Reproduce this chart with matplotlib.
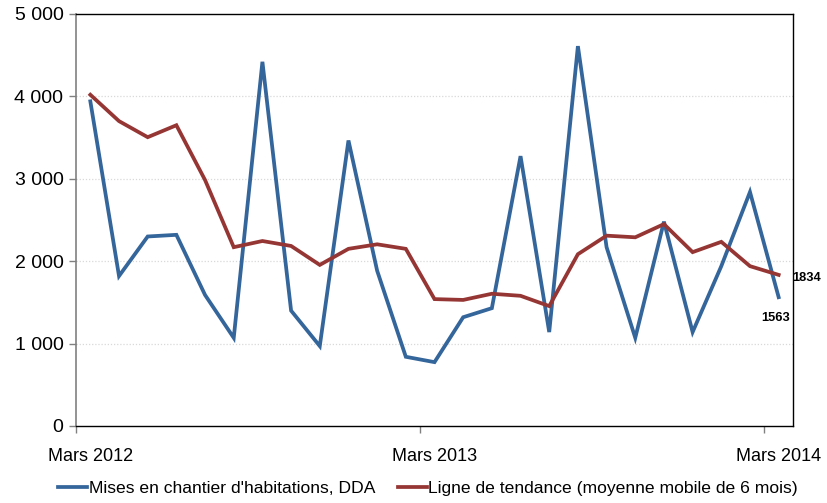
import matplotlib
matplotlib.use("Agg")
import matplotlib.pyplot as plt
from matplotlib.ticker import FixedLocator, FuncFormatter

plt.rcParams['font.family'] = ['Liberation Sans', 'DejaVu Sans']

months = list(range(25))
tick_labels = ["Mars 2012", "Mars 2013", "Mars 2014"]
tick_label_pos = [0, 12, 24]
mises = [3940, 1820, 2300, 2320, 1590, 1070, 4420, 1400, 970, 3465, 1885, 840,
         775, 1320, 1430, 3275, 1140, 4610, 2170, 1070, 2480, 1140, 1940, 2840, 1563]
tendance = [4020, 3700, 3505, 3650, 2985, 2170, 2245, 2185, 1955, 2150, 2205, 2150,
            1540, 1530, 1605, 1580, 1455, 2085, 2310, 2290, 2450, 2110, 2235, 1940, 1834]
blue = "#34659B"
red = "#963634"

fig = plt.figure(figsize=(8.27, 5.03), dpi=100)
ax = fig.add_axes([76/827, 1-426/503, (793-76)/827, (426-14)/503])

ax.plot(months, mises, color=blue, lw=2.7, solid_joinstyle='miter',
        label="Mises en chantier d'habitations, DDA", zorder=3)
ax.plot(months, tendance, color=red, lw=2.7, solid_joinstyle='miter',
        label="Ligne de tendance (moyenne mobile de 6 mois)", zorder=4)

ax.set_xlim(-0.5, 24.5)
ax.set_ylim(0, 5000)
ax.set_yticks([0, 1000, 2000, 3000, 4000, 5000])
ax.yaxis.set_major_formatter(FuncFormatter(lambda v, p: f"{int(v):,}".replace(",", " ")))
for y in [1000, 2000, 3000, 4000]:
    ax.axhline(y, color="#d9d9d9", lw=0.9, ls=(0, (1, 1.5)), zorder=1)

ax.set_xticks(tick_label_pos)
ax.set_xticklabels(tick_labels)
ax.tick_params(axis='x', which='major', length=0, pad=16, labelsize=13)
ax.xaxis.set_minor_locator(FixedLocator([-0.5, 11.5, 23.5]))
ax.tick_params(axis='x', which='minor', length=5, width=1, color="#808080", direction='out')
ax.tick_params(axis='y', length=5, width=1, color="#808080", labelsize=14, pad=4)

ax.spines['left'].set_color("#808080")
ax.spines['left'].set_linewidth(1.2)
for s in ['top', 'right', 'bottom']:
    ax.spines[s].set_color("black")
    ax.spines[s].set_linewidth(1.0)

ax.annotate(f"{tendance[-1]}", xy=(24, tendance[-1]), xytext=(10, -2), textcoords='offset points',
            fontsize=9.3, fontweight='bold', va='center', ha='left')
ax.annotate(f"{mises[-1]}", xy=(24, mises[-1]), xytext=(-2.5, -15), textcoords='offset points',
            fontsize=9.3, fontweight='bold', va='center', ha='center')

leg = fig.legend(loc='center', bbox_to_anchor=(428/827, 1-488/503), ncol=2, frameon=False,
                 fontsize=12.6, handlelength=1.65, handletextpad=0.08, columnspacing=1.3)

fig.savefig("out.png", dpi=100)
